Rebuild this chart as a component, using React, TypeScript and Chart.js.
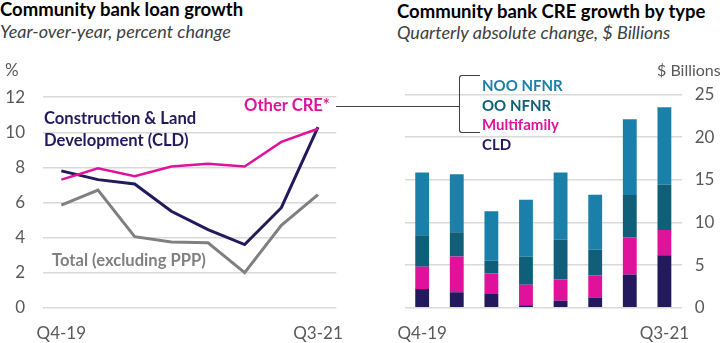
import React, { useEffect, useRef } from "react";
import { Chart, registerables } from "chart.js";

Chart.register(...registerables);

const quarters = ["Q4-19", "Q1-20", "Q2-20", "Q3-20", "Q4-20", "Q1-21", "Q2-21", "Q3-21"];

// Left chart: YoY percent change
const otherCRE = [7.3, 7.95, 7.5, 8.05, 8.2, 8.05, 9.45, 10.2];
const cldGrowth = [7.8, 7.3, 7.05, 5.5, 4.45, 3.6, 5.7, 10.3];
const totalExPPP = [5.85, 6.7, 4.05, 3.75, 3.7, 2.0, 4.7, 6.45];
const leftTicks = [0, 2, 4, 6, 8, 10, 12];

// Right chart: quarterly absolute change, $ Billions
const cldChange = [2.2, 1.8, 1.6, 0.3, 0.8, 1.2, 3.9, 6.15];
const multifamilyChange = [2.6, 4.2, 2.4, 2.4, 2.5, 2.6, 4.35, 2.95];
const ooNfnrChange = [3.7, 2.85, 1.5, 3.3, 4.7, 3.0, 4.95, 5.35];
const nooNfnrChange = [7.35, 6.8, 5.8, 6.65, 7.85, 6.45, 8.9, 9.05];
const rightTicks = [0, 5, 10, 15, 20, 25];

const NAVY = "#221a5c";
const MAGENTA = "#e0129c";
const GRAY = "#808080";
const TEAL = "#0f5f78";
const BLUE = "#1a80aa";
const TICK = "#595959";
const GRID = "#d9d9d9";
const FONT = "Lato";

const edgeLabel = (labels: string[]) => (_v: any, i: number) =>
  i === 0 || i === labels.length - 1 ? labels[i] : "";

function LeftChart() {
  const ref = useRef<HTMLCanvasElement>(null);
  useEffect(() => {
    const chart = new Chart(ref.current!, {
      type: "line",
      data: {
        labels: quarters,
        datasets: [
          { data: otherCRE, borderColor: MAGENTA, borderWidth: 2.5, pointRadius: 0, tension: 0 },
          { data: cldGrowth, borderColor: NAVY, borderWidth: 3, pointRadius: 0, tension: 0 },
          { data: totalExPPP, borderColor: GRAY, borderWidth: 3, pointRadius: 0, tension: 0 },
        ],
      },
      options: {
        animation: false,
        responsive: false,
        devicePixelRatio: 1,
        layout: { padding: { left: 0, top: 37.2, right: 20, bottom: 0 } },
        plugins: { legend: { display: false }, tooltip: { enabled: false } },
        scales: {
          x: {
            offset: true,
            grid: { display: false, drawTicks: false },
            border: { display: false },
            ticks: {
              callback: edgeLabel(quarters),
              color: TICK,
              font: { family: FONT, size: 17 },
              padding: 16,
              maxRotation: 0,
              autoSkip: false,
            },
            afterFit: (s: any) => { s.height = 35.3; },
          },
          y: {
            min: 0,
            max: 12,
            afterBuildTicks: (s: any) => { s.ticks = leftTicks.map((v) => ({ value: v })); },
            grid: { color: GRID, lineWidth: 1.5, drawTicks: false },
            border: { display: false },
            ticks: { color: TICK, font: { family: FONT, size: 17 }, padding: 18 },
            afterFit: (s: any) => { s.width = 43; },
          },
        },
      },
    });
    return () => chart.destroy();
  }, []);
  return (
    <canvas
      ref={ref}
      width={360}
      height={283}
      style={{ position: "absolute", left: 0, top: 60, width: 360, height: 283 }}
    />
  );
}

function RightChart() {
  const ref = useRef<HTMLCanvasElement>(null);
  useEffect(() => {
    const bar = (data: number[], color: string) => ({
      data,
      backgroundColor: color,
      borderWidth: 0,
      barPercentage: 0.4,
      categoryPercentage: 1,
    });
    const chart = new Chart(ref.current!, {
      type: "bar",
      data: {
        labels: quarters,
        datasets: [
          bar(cldChange, NAVY),
          bar(multifamilyChange, MAGENTA),
          bar(ooNfnrChange, TEAL),
          bar(nooNfnrChange, BLUE),
        ],
      },
      options: {
        animation: false,
        responsive: false,
        devicePixelRatio: 1,
        layout: { padding: { left: 22.7, top: 34.4, right: 0, bottom: 0 } },
        plugins: { legend: { display: false }, tooltip: { enabled: false } },
        scales: {
          x: {
            stacked: true,
            grid: { display: false, drawTicks: false },
            border: { display: false },
            ticks: {
              callback: edgeLabel(quarters),
              color: TICK,
              font: { family: FONT, size: 17 },
              padding: 16,
              maxRotation: 0,
              autoSkip: false,
            },
            afterFit: (s: any) => { s.height = 35.3; },
          },
          y: {
            stacked: true,
            position: "right",
            min: 0,
            max: 25,
            afterBuildTicks: (s: any) => { s.ticks = rightTicks.map((v) => ({ value: v })); },
            grid: { color: GRID, lineWidth: 1.5, drawTicks: false },
            border: { display: false },
            ticks: { color: TICK, font: { family: FONT, size: 17 }, padding: 13 },
            afterFit: (s: any) => { s.width = 43.3; },
          },
        },
      },
    });
    return () => chart.destroy();
  }, []);
  return (
    <canvas
      ref={ref}
      width={345}
      height={283}
      style={{ position: "absolute", left: 380, top: 60, width: 345, height: 283 }}
    />
  );
}

const txt = (
  left: number,
  top: number,
  text: string,
  extra: React.CSSProperties = {}
) => (
  <div
    style={{
      position: "absolute",
      left,
      top,
      whiteSpace: "nowrap",
      lineHeight: 1,
      fontFamily: FONT,
      ...extra,
    }}
  >
    {text}
  </div>
);

export default function App() {
  const title: React.CSSProperties = { fontSize: 18.5, fontWeight: 700, color: "#000" };
  const sub: React.CSSProperties = { fontSize: 18, fontStyle: "italic", color: "#404040" };
  const lbl: React.CSSProperties = { fontSize: 16.6, fontWeight: 700 };
  const leg: React.CSSProperties = { fontSize: 15, fontWeight: 700 };
  return (
    <div
      style={{
        position: "fixed",
        left: 0,
        top: 0,
        width: 725,
        height: 343,
        background: "#fff",
        overflow: "hidden",
      }}
    >
      <LeftChart />
      <RightChart />
      {txt(0, 0, "Community bank loan growth", title)}
      {txt(0, 22, "Year-over-year, percent change", sub)}
      {txt(397, 2, "Community bank CRE growth by type", title)}
      {txt(397, 23, "Quarterly absolute change, $ Billions", sub)}
      {txt(5, 61, "%", { fontSize: 17, color: TICK })}
      {txt(657, 62, "$ Billions", { fontSize: 16, color: TICK })}
      {txt(244, 97, "Other CRE*", { ...lbl, color: MAGENTA })}
      {txt(44, 110, "Construction & Land", { ...lbl, color: NAVY })}
      {txt(44, 132, "Development (CLD)", { ...lbl, color: NAVY })}
      {txt(52, 252, "Total (excluding PPP)", { ...lbl, color: GRAY })}
      {txt(482, 78, "NOO NFNR", { ...leg, color: BLUE })}
      {txt(482, 98, "OO NFNR", { ...leg, color: TEAL })}
      {txt(482, 117, "Multifamily", { ...leg, color: MAGENTA })}
      {txt(482, 137, "CLD", { ...leg, color: NAVY })}
      <div
        style={{
          position: "absolute",
          left: 336,
          top: 106,
          width: 123,
          height: 0,
          borderTop: "1.5px solid #404040",
        }}
      />
      <div
        style={{
          position: "absolute",
          left: 459,
          top: 75,
          width: 20,
          height: 56,
          borderLeft: "1.5px solid #404040",
          borderTop: "1.5px solid #404040",
          borderBottom: "1.5px solid #404040",
          borderRadius: "3px 0 0 3px",
        }}
      />
    </div>
  );
}
